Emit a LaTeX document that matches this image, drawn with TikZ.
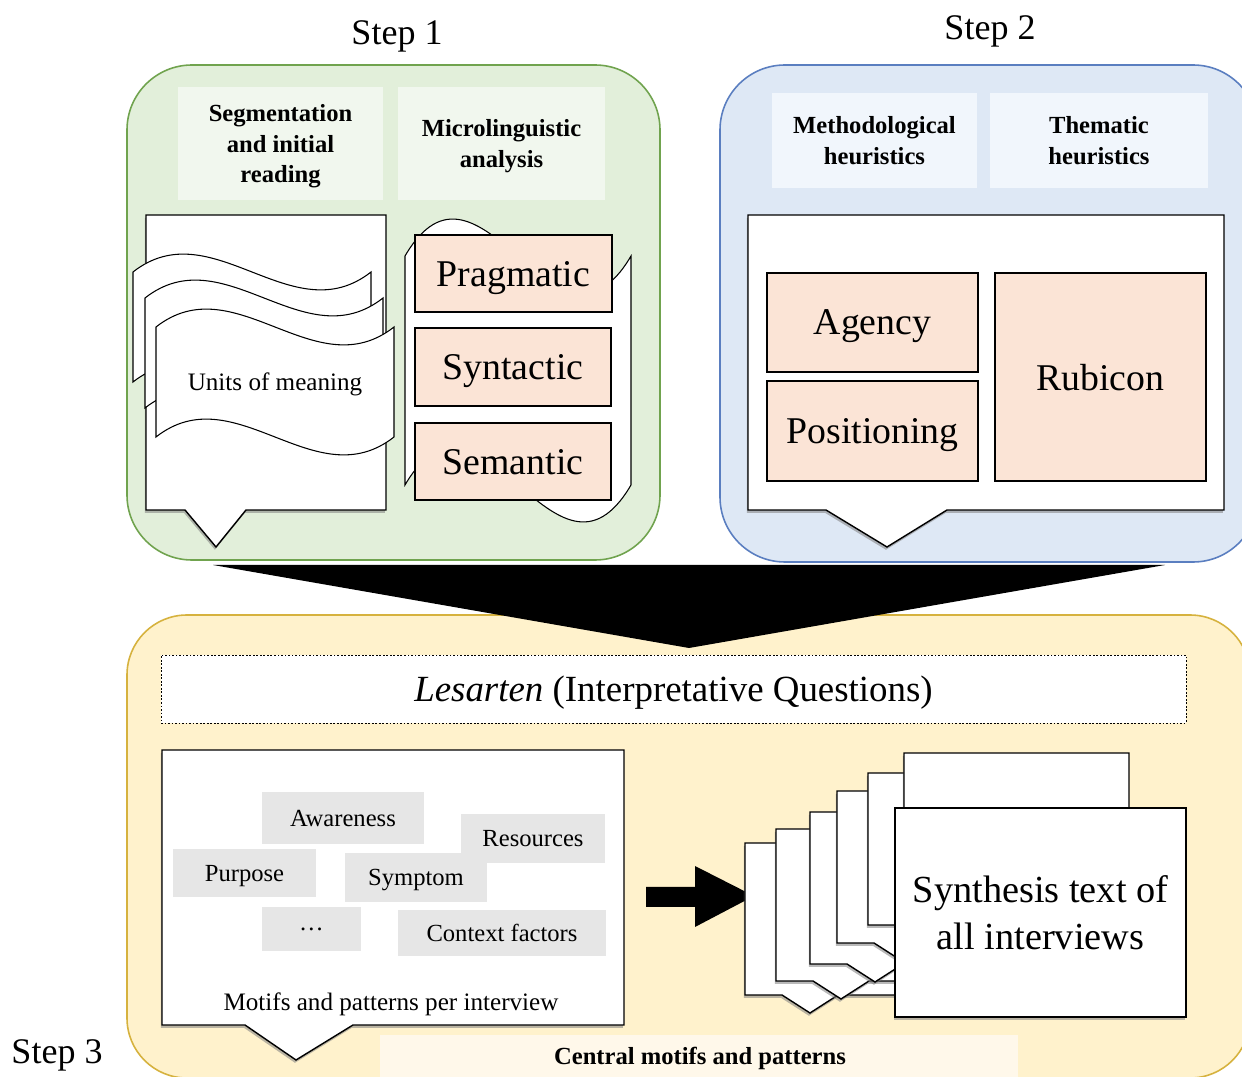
\documentclass[tikz,border=0pt]{standalone}
\usepackage{fontspec}
\setmainfont{Liberation Serif}
\usetikzlibrary{shadows}

\definecolor{panelgreen}{HTML}{E2EFDA}
\definecolor{edgegreen}{HTML}{70A34E}
\definecolor{headgreen}{HTML}{F1F7EE}
\definecolor{panelblue}{HTML}{DEE8F5}
\definecolor{edgeblue}{HTML}{5A7EC0}
\definecolor{headblue}{HTML}{F1F6FC}
\definecolor{panelyellow}{HTML}{FFF2CC}
\definecolor{edgeyellow}{HTML}{D6B23E}
\definecolor{tagpeach}{HTML}{FBE4D6}
\definecolor{motifgrey}{HTML}{E6E6E6}
\definecolor{centralfill}{HTML}{FFF8EA}

\begin{document}
\begin{tikzpicture}[x=0.02cm, y=-0.02cm,
    every node/.style={text depth=0pt},
    panel/.style={line width=0.9pt, rounded corners=1.3cm},
    headbox/.style={align=center, inner sep=0pt, font=\fontsize{14}{17.5}\selectfont\bfseries},
    tagbox/.style={fill=tagpeach, draw=black, line width=0.8pt, inner sep=0pt, font=\fontsize{21.5}{26}\selectfont},
    motif/.style={fill=motifgrey, inner sep=0pt, font=\fontsize{14}{17}\selectfont},
    softshadow/.style={drop shadow={shadow xshift=-0.6pt, shadow yshift=-1.6pt, opacity=0.55}},
    callout/.style={fill=white, draw=black, line width=0.8pt, softshadow},
    tape/.style={fill=white, draw=black, line width=0.6pt},
    steplabel/.style={font=\fontsize{20.5}{24}\selectfont}]

    % 0. Frame of the picture
    \useasboundingbox (0,0) rectangle (1242,1077);
    \clip (0,0) rectangle (1242,1077);

    % 1. The three coloured panels
    \draw[panel, fill=panelgreen, draw=edgegreen] (127,65) rectangle (660,560);
    \draw[panel, fill=panelblue, draw=edgeblue] (720,65) rectangle (1258,562);
    \draw[panel, rounded corners=1.2cm, fill=panelyellow, draw=edgeyellow] (127,615) rectangle (1250,1078);

    % 2. Black funnel from step 1 and 2 into step 3
    \coordinate (funnelL) at (213,565);
    \coordinate (funnelR) at (1165,565);
    \coordinate (funnelT) at (689,648);
    \fill[black] (funnelL) -- (funnelR) -- (funnelT) -- cycle;

    % 3. Step labels
    \node[steplabel] (step1) at (397,33) {Step 1};
    \node[steplabel] (step2) at (990,28) {Step 2};
    \node[steplabel] (step3) at (57,1052) {Step 3};

    % 4. Step 1
    % Headers
    \node[headbox, fill=headgreen, minimum width=4.1cm, minimum height=2.26cm] (segment) at (280.5,143.5) {Segmentation\\and initial\\reading};
    \node[headbox, fill=headgreen, minimum width=4.14cm, minimum height=2.26cm] (microling) at (501.5,143.5) {Microlinguistic\\analysis};
    % Document with the units of meaning
    \draw[callout] (146,215) -- (386,215) -- (386,510) -- (246,510) -- (216,547) -- (185,510) -- (146,510) -- cycle;
    \foreach \x/\y in {133/272, 145/298, 156/327} {
        \draw[tape] (\x,\y) .. controls ({\x+79},{\y-62}) and ({\x+159},{\y+62}) .. ({\x+238},\y)
            -- ({\x+238},{\y+110}) .. controls ({\x+159},{\y+172}) and ({\x+79},{\y+48}) .. (\x,{\y+110}) -- cycle;
    }
    \node[font=\fontsize{14.3}{17}\selectfont] (units) at (275,382) {Units of meaning};
    % Tape behind the three levels
    \draw[tape] (405,256) .. controls (480,128) and (556,384) .. (631,256)
        -- (631,485) .. controls (556,613) and (480,357) .. (405,485) -- cycle;
    \node[tagbox, minimum width=3.94cm, minimum height=1.54cm] (pragmatic) at (513.5,273.5) {Pragmatic};
    \node[tagbox, minimum width=3.92cm, minimum height=1.56cm] (syntactic) at (513,367) {Syntactic};
    \node[tagbox, minimum width=3.92cm, minimum height=1.54cm] (semantic) at (513,461.5) {Semantic};

    % 5. Step 2
    \node[headbox, fill=headblue, minimum width=4.1cm, minimum height=1.9cm] (methodical) at (874.5,140.5) {Methodological\\heuristics};
    \node[headbox, fill=headblue, minimum width=4.36cm, minimum height=1.9cm] (thematic) at (1099,140.5) {Thematic\\heuristics};
    \draw[callout] (748,215) -- (1224,215) -- (1224,510) -- (947,510) -- (887,547) -- (826,510) -- (748,510) -- cycle;
    \node[tagbox, minimum width=4.22cm, minimum height=1.98cm] (agency) at (872.5,322.5) {Agency};
    \node[tagbox, minimum width=4.22cm, minimum height=2.0cm] (positioning) at (872.5,431) {Positioning};
    \node[tagbox, minimum width=4.22cm, minimum height=4.16cm] (rubicon) at (1100.5,377) {Rubicon};

    % 6. Step 3
    \node[draw=black, dash pattern=on 1pt off 1pt, fill=white, minimum width=20.5cm, minimum height=1.36cm,
        font=\fontsize{21}{25}\selectfont] (lesarten) at (673.5,689) {\textit{Lesarten} (Interpretative Questions)};
    % Motifs per interview
    \draw[callout] (162,750) -- (624,750) -- (624,1025) -- (353,1025) -- (296,1060) -- (245,1025) -- (162,1025) -- cycle;
    \node[motif, minimum width=3.24cm, minimum height=1.04cm] (awareness) at (343,818) {Awareness};
    \node[motif, minimum width=2.88cm, minimum height=0.98cm] (resources) at (533,838.5) {Resources};
    \node[motif, minimum width=2.86cm, minimum height=0.96cm] (purpose) at (244.5,873) {Purpose};
    \node[motif, minimum width=2.84cm, minimum height=0.98cm] (symptom) at (416,877.5) {Symptom};
    \node[motif, minimum width=1.98cm, minimum height=0.88cm] (etc) at (311.5,929) {\dots};
    \node[motif, minimum width=4.16cm, minimum height=0.92cm] (context) at (502,933) {Context factors};
    \node[font=\fontsize{14.3}{17}\selectfont] (perinterview) at (391,1002) {Motifs and patterns per interview};
    % Central motifs bar
    \fill[centralfill] (380,1035) rectangle (1018,1085);
    \node[font=\fontsize{14}{17}\selectfont\bfseries] (central) at (700,1056) {Central motifs and patterns};
    % Block arrow
    \coordinate (arrowtail) at (646,897);
    \coordinate (arrowtip) at (754,896);
    \fill[black] (646,887) -- (695,887) -- (695,866) -- (arrowtip) -- (695,927) -- (695,907) -- (646,907) -- cycle;
    % Stack of pages
    \foreach \l/\t in {745/843, 776/829, 810/812, 837/791, 868/773, 904/753} {
        \draw[callout] (\l,\t) -- ({\l+225},\t) -- ({\l+225},{\t+152}) -- ({\l+93},{\t+152})
            -- ({\l+65},{\t+170}) -- ({\l+37},{\t+152}) -- (\l,{\t+152}) -- cycle;
    }
    \node[draw=black, fill=white, line width=0.8pt, softshadow, minimum width=5.82cm, minimum height=4.18cm,
        align=center, font=\fontsize{21.8}{26.6}\selectfont] (synthesis) at (1040.5,912.5) {Synthesis text of\\all interviews};
\end{tikzpicture}
\end{document}
